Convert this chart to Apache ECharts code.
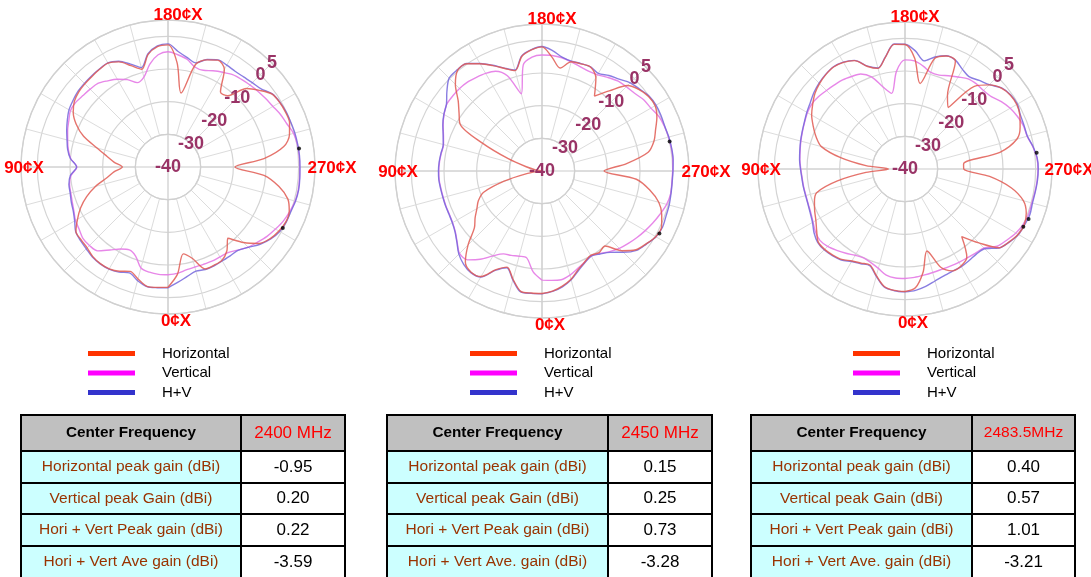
<!DOCTYPE html>
<html>
<head>
<meta charset="utf-8">
<title>Radiation patterns 2400 / 2450 / 2483.5 MHz</title>
<script src="https://cdn.jsdelivr.net/npm/echarts@6/dist/echarts.min.js"></script>
<style>
  html, body { margin: 0; padding: 0; background: #ffffff; }
  #main { width: 1091px; height: 577px; }
</style>
</head>
<body>
<div id="main"></div>
<script>
// ---------------------------------------------------------------
// Data: gain (dBi) sampled every 5 degrees of azimuth
// ---------------------------------------------------------------
const ANGLES = [0,5,10,15,20,25,30,35,40,45,50,55,60,65,70,75,80,85,90,95,100,105,110,115,120,125,130,135,140,145,150,155,160,165,170,175,180,185,190,195,200,205,210,215,220,225,230,235,240,245,250,255,260,265,270,275,280,285,290,295,300,305,310,315,320,325,330,335,340,345,350,355];

// 2400 MHz
const HORIZONTAL_2400 = [-3.2,-3.0,-2.9,-4.5,-6.0,-4.8,-4.0,-3.9,-4.2,-5.0,-5.3,-5.6,-8.0,-10.5,-13.5,-17.0,-21.0,-23.5,-26.0,-23.5,-21.0,-17.5,-12.5,-9.0,-6.5,-5.0,-4.3,-4.0,-3.8,-3.5,-3.3,-4.5,-7.0,-9.0,-5.0,-3.0,-2.6,-8.0,-17.0,-7.5,-5.1,-3.9,-5.5,-12.0,-11.5,-6.0,-3.5,-1.1,-0.5,-0.3,-0.4,-1.5,-4.0,-10.5,-19.5,-10.5,-5.5,-2.0,-0.5,-0.2,-0.8,-1.8,-3.6,-7.3,-11.5,-8.6,-7.0,-6.8,-6.8,-11.0,-13.0,-7.0];
const VERTICAL_2400 = [-7.0,-7.0,-7.3,-8.0,-11.0,-12.0,-11.0,-9.0,-6.5,-6.0,-6.0,-6.8,-7.3,-8.2,-8.8,-9.2,-9.4,-10.2,-12.1,-10.1,-9.0,-8.2,-7.3,-6.5,-5.5,-5.5,-6.0,-6.3,-6.6,-7.8,-9.0,-10.5,-12.5,-11.5,-8.0,-5.5,-4.7,-5.5,-6.5,-8.3,-8.5,-7.5,-6.5,-5.5,-5.0,-4.5,-4.0,-3.5,-2.9,-2.0,-1.3,-0.2,0.2,0.3,0.3,0.4,0.5,0.3,-0.3,-1.0,-2.0,-3.0,-4.2,-5.3,-6.8,-8.0,-8.2,-8.2,-8.3,-8.3,-8.0,-7.3];
const HV_2400 = [-3.0,-2.9,-2.8,-4.0,-5.5,-4.5,-3.9,-3.8,-4.0,-4.6,-5.0,-5.5,-7.0,-8.0,-8.5,-9.0,-9.2,-10.0,-12.0,-10.0,-8.8,-8.0,-7.0,-6.0,-5.0,-4.5,-4.0,-3.8,-3.6,-3.4,-3.2,-4.3,-6.5,-8.5,-4.8,-2.8,-2.3,-4.5,-6.0,-7.0,-5.0,-3.8,-4.0,-4.2,-4.0,-3.5,-2.8,-1.0,-0.4,-0.1,0.0,0.2,0.3,0.4,0.4,0.5,0.6,0.4,0.0,-0.1,-0.5,-1.6,-3.2,-5.2,-6.7,-6.8,-6.8,-6.6,-6.6,-7.0,-6.0,-4.6];
const PEAKS_2400 = [[0.5, 262], [-0.2, 298]];

// 2450 MHz
const HORIZONTAL_2450 = [-2.5,-2.5,-2.6,-5.7,-8.7,-6.7,-2.7,-2.2,-3.5,-8.0,-13.0,-15.0,-17.0,-18.5,-21.0,-28.0,-35.0,-39.0,-40.0,-40.0,-38.0,-35.0,-29.0,-20.0,-11.0,-9.0,-6.5,-2.5,0.2,0.1,-2.1,-4.4,-6.6,-8.2,-4.4,-2.8,-2.0,-5.0,-8.0,-5.4,-5.1,-4.9,-7.0,-12.0,-8.0,-3.0,-1.2,-0.2,0.0,-1.2,-3.0,-4.5,-7.0,-14.0,-21.0,-11.0,-6.5,-3.0,-1.0,0.4,0.2,-1.1,-2.5,-5.5,-10.0,-9.5,-10.2,-9.2,-7.8,-5.7,-4.2,-3.1];
const VERTICAL_2450 = [-6.6,-9.0,-13.0,-13.0,-12.5,-12.0,-10.0,-7.0,-4.5,-4.3,-6.1,-7.6,-8.4,-8.7,-8.7,-8.7,-8.6,-8.4,-8.4,-8.5,-8.7,-8.8,-7.9,-6.6,-5.4,-4.4,-4.3,-4.3,-4.5,-5.0,-5.5,-6.3,-9.0,-15.5,-7.0,-5.0,-4.5,-4.5,-4.8,-5.4,-6.0,-6.3,-6.0,-5.0,-4.0,-3.5,-3.0,-2.0,-1.5,-0.5,-0.1,0.1,0.2,0.2,0.0,-0.1,0.0,-0.5,-1.5,-2.5,-3.5,-4.5,-5.5,-6.5,-7.8,-9.2,-10.0,-9.2,-8.2,-7.0,-6.2,-6.4];
const HV_2450 = [-2.4,-2.4,-2.4,-5.5,-8.5,-6.5,-2.5,-2.0,-2.7,-4.0,-6.0,-7.5,-8.3,-8.6,-8.6,-8.6,-8.5,-8.3,-8.3,-8.4,-8.6,-8.7,-7.8,-6.5,-5.3,-4.3,-2.0,0.2,0.4,0.2,-2.0,-4.3,-6.5,-8.0,-4.2,-2.7,-1.9,-3.0,-4.6,-5.2,-5.0,-4.8,-5.5,-4.3,-3.3,-1.8,-1.0,0.0,0.3,0.2,0.0,0.2,0.3,0.3,0.1,0.0,0.1,0.3,0.4,0.7,0.3,-1.0,-2.2,-4.8,-7.5,-9.0,-9.9,-9.0,-7.5,-5.5,-4.0,-3.0];
const PEAKS_2450 = [[0.1, 257], [0.7, 298]];

// 2483.5 MHz
const HORIZONTAL_2483 = [-2.5,-2.7,-3.5,-6.2,-8.7,-8.2,-7.5,-6.2,-5.6,-5.2,-5.3,-7.0,-8.5,-9.5,-10.5,-12.0,-19.0,-28.0,-35.0,-28.0,-20.0,-13.5,-11.0,-9.0,-7.0,-5.5,-4.0,-3.0,-2.3,-1.9,-2.3,-3.4,-6.6,-8.1,-5.3,-1.7,-1.9,-6.0,-13.4,-5.0,-3.2,-3.5,-14.0,-17.0,-7.0,-3.6,-1.5,-0.6,-0.5,-1.2,-2.5,-4.5,-10.5,-22.0,-22.0,-14.0,-7.0,-2.5,-0.5,0.3,0.0,-1.1,-2.5,-8.0,-13.0,-7.0,-5.7,-5.6,-8.0,-14.0,-8.0,-3.5];
const VERTICAL_2483 = [-6.5,-6.5,-7.0,-8.5,-9.5,-10.0,-9.5,-8.5,-7.5,-6.5,-6.0,-6.5,-7.5,-8.2,-8.5,-8.6,-8.5,-8.4,-8.1,-7.7,-7.4,-7.0,-6.6,-6.1,-5.5,-5.2,-5.5,-6.0,-6.4,-6.7,-7.3,-7.9,-10.0,-14.0,-16.5,-10.0,-6.6,-6.8,-8.0,-9.4,-9.4,-8.5,-7.5,-6.3,-6.0,-6.0,-5.5,-4.0,-2.8,-2.0,-1.4,-1.3,-0.3,0.5,0.7,0.6,0.4,0.2,0.3,0.0,-0.8,-2.0,-3.2,-5.8,-6.4,-6.8,-7.0,-7.2,-7.3,-7.2,-7.0,-6.7];
const HV_2483 = [-2.4,-2.6,-3.3,-6.0,-8.5,-8.0,-7.3,-6.0,-5.4,-5.0,-5.1,-6.0,-7.3,-8.0,-8.4,-8.5,-8.4,-8.3,-8.0,-7.6,-7.3,-6.9,-6.5,-6.0,-5.3,-4.6,-3.6,-2.8,-2.2,-1.8,-2.2,-3.3,-6.5,-8.0,-5.2,-1.6,-1.8,-3.7,-6.4,-4.5,-3.1,-3.3,-4.8,-5.6,-4.6,-3.5,-1.4,-0.5,-0.3,-1.0,-1.2,-1.2,-0.2,0.6,0.8,0.7,0.5,0.4,0.7,0.4,0.1,-1.0,-2.4,-5.5,-6.0,-5.8,-5.5,-5.5,-5.2,-4.5,-3.5,-2.7];
const PEAKS_2483 = [[0.6, 263], [0.8, 292], [0.3, 296]];

// Axis tick labels
const ANGLE_TICKS = [0, 90, 180, 270];
const ANGLE_TICK_LABELS = ['0¢X', '90¢X', '180¢X', '270¢X'];
const DB_TICKS = [5, 0, -10, -20, -30, -40];

// Legend / table text
const SERIES_NAMES = ['Horizontal', 'Vertical', 'H+V'];
const TABLE_HEADER = 'Center Frequency';
const FREQ_LABELS = ['2400 MHz', '2450 MHz', '2483.5MHz'];
const ROW_LABELS_2400 = ['Horizontal peak gain (dBi)', 'Vertical peak Gain (dBi)', 'Hori + Vert Peak gain (dBi)', 'Hori + Vert Ave gain (dBi)'];
const ROW_LABELS_2450 = ['Horizontal peak gain (dBi)', 'Vertical peak Gain (dBi)', 'Hori + Vert Peak gain (dBi)', 'Hori + Vert Ave. gain (dBi)'];
const ROW_LABELS_2483 = ['Horizontal peak gain (dBi)', 'Vertical peak Gain (dBi)', 'Hori + Vert Peak gain (dBi)', 'Hori + Vert Ave. gain (dBi)'];
const GAINS_2400 = [-0.95, 0.20, 0.22, -3.59];
const GAINS_2450 = [0.15, 0.25, 0.73, -3.28];
const GAINS_2483 = [0.40, 0.57, 1.01, -3.21];

// ---------------------------------------------------------------
// Layout and styling
// ---------------------------------------------------------------
const FONT = "'Liberation Sans', Arial, Helvetica, sans-serif";
const R_MIN = -40, R_MAX = 5, RING_MIN = -30;
const RADIUS = 147;
const RING_INNER = RADIUS * (RING_MIN - R_MIN) / (R_MAX - R_MIN);
const ROW_Y = [415, 451, 483, 514, 546, 578];

const PANELS = [
  { cx: 168, cy: 167, legendX: 88,  tx: [21, 241, 345],  h: HORIZONTAL_2400, v: VERTICAL_2400, hv: HV_2400, peaks: PEAKS_2400, rows: ROW_LABELS_2400, gains: GAINS_2400, freqSize: 17 },
  { cx: 542, cy: 171, legendX: 470, tx: [387, 608, 712], h: HORIZONTAL_2450, v: VERTICAL_2450, hv: HV_2450, peaks: PEAKS_2450, rows: ROW_LABELS_2450, gains: GAINS_2450, freqSize: 17 },
  { cx: 905, cy: 169, legendX: 853, tx: [751, 972, 1075], h: HORIZONTAL_2483, v: VERTICAL_2483, hv: HV_2483, peaks: PEAKS_2483, rows: ROW_LABELS_2483, gains: GAINS_2483, freqSize: 15.5 }
];

const LINE_COLORS = { 'Horizontal': '#e05a52', 'Vertical': '#e47ae6', 'H+V': '#7466dc' };
const LEGEND_COLORS = ['#ff3300', '#ff00ff', '#3333cc'];
const ANGLE_LABEL_OFFSET = { 0: [8, 154], 90: [-144, 1], 180: [10, -152], 270: [164, 1] };

function closed(values) {
  const pts = ANGLES.map((a, k) => [values[k], a]);
  pts.push([values[0], 360]);
  return pts;
}

const polar = [], angleAxis = [], radiusAxis = [], series = [], legend = [];
const firstSeriesOfPanel = [];

PANELS.forEach((p, i) => {
  const gridIdx = 2 * i, dataIdx = 2 * i + 1;
  // background grid: rings from -30 dB outward and 15-degree spokes
  polar.push({ center: [p.cx, p.cy], radius: [RING_INNER, RADIUS] });
  // data frame: -40 dB at the centre
  polar.push({ center: [p.cx, p.cy], radius: [0, RADIUS] });

  angleAxis.push({
    polarIndex: gridIdx, type: 'value', min: 0, max: 360, interval: 15,
    startAngle: 270, clockwise: true,
    axisLine: { show: true, lineStyle: { color: '#d0d0d0', width: 1.3 } },
    axisTick: { show: false }, axisLabel: { show: false },
    splitLine: { show: true, lineStyle: { color: '#dcdcdc', width: 1 } },
    splitArea: { show: false }
  });
  radiusAxis.push({
    polarIndex: gridIdx, type: 'value', min: RING_MIN, max: R_MAX, interval: 10,
    axisLine: { show: false }, axisTick: { show: false }, axisLabel: { show: false },
    splitLine: { show: true, lineStyle: { color: '#d4d4d4', width: 1.2 } },
    splitArea: { show: false }
  });
  angleAxis.push({
    polarIndex: dataIdx, type: 'value', min: 0, max: 360, interval: 90,
    startAngle: 270, clockwise: true,
    axisLine: { show: false }, axisTick: { show: false }, axisLabel: { show: false },
    splitLine: { show: true, lineStyle: { color: '#cccccc', width: 1.2 } },
    splitArea: { show: false }
  });
  radiusAxis.push({
    polarIndex: dataIdx, type: 'value', min: R_MIN, max: R_MAX,
    axisLine: { show: false }, axisTick: { show: false }, axisLabel: { show: false },
    splitLine: { show: false }, splitArea: { show: false }
  });

  firstSeriesOfPanel.push(series.length);
  [['Vertical', p.v, 0.9], ['H+V', p.hv, 0.85], ['Horizontal', p.h, 0.85]].forEach(([name, vals, op]) => {
    series.push({
      type: 'line', name: name, coordinateSystem: 'polar', polarIndex: dataIdx,
      data: closed(vals), smooth: 0.3, showSymbol: false, silent: true,
      lineStyle: { color: LINE_COLORS[name], width: 1.4, opacity: op },
      itemStyle: { color: LINE_COLORS[name] }
    });
  });
  series.push({
    type: 'scatter', name: 'peak', coordinateSystem: 'polar', polarIndex: dataIdx,
    data: p.peaks, symbolSize: 4, silent: true, itemStyle: { color: '#000000' }, z: 5
  });

  legend.push({
    left: p.legendX, top: 344.5, orient: 'vertical', padding: 0,
    itemWidth: 47, itemHeight: 5, itemGap: 1.5, icon: 'rect', selectedMode: false,
    data: SERIES_NAMES.map((n, k) => ({ name: n, itemStyle: { color: LEGEND_COLORS[k], borderWidth: 0 } })),
    textStyle: { fontSize: 15, color: '#000000', fontFamily: FONT, lineHeight: 18, padding: [0, 0, 0, 22] }
  });
});

const chart = echarts.init(document.getElementById('main'), null, { renderer: 'canvas', width: 1091, height: 577 });
chart.setOption({
  backgroundColor: '#ffffff',
  animation: false,
  polar, angleAxis, radiusAxis, legend, series
});

// ---------------------------------------------------------------
// Axis captions and gain tables
// ---------------------------------------------------------------
const graphics = [];
PANELS.forEach((p, i) => {
  const sIdx = firstSeriesOfPanel[i];
  const c = chart.convertToPixel({ seriesIndex: sIdx }, [R_MIN, 0]);

  ANGLE_TICKS.forEach((a, k) => {
    const off = ANGLE_LABEL_OFFSET[a];
    graphics.push({
      type: 'text', x: c[0] + off[0], y: c[1] + off[1], z: 10,
      style: { text: ANGLE_TICK_LABELS[k], fill: '#ff0000', font: 'bold 17px ' + FONT, align: 'center', verticalAlign: 'middle' }
    });
  });

  DB_TICKS.forEach(v => {
    const pt = chart.convertToPixel({ seriesIndex: sIdx }, [v, 225]);
    graphics.push({
      type: 'text', x: pt[0], y: pt[1], z: 10,
      style: { text: String(v), fill: '#993366', font: 'bold 18px ' + FONT, align: 'center', verticalAlign: 'middle' }
    });
  });

  const [x0, xm, x1] = p.tx;
  for (let r = 0; r < 5; r++) {
    const y0 = ROW_Y[r], y1 = ROW_Y[r + 1], ym = (y0 + y1) / 2;
    const header = r === 0;
    graphics.push({
      type: 'rect', shape: { x: x0, y: y0, width: xm - x0, height: y1 - y0 }, z: 1,
      style: { fill: header ? '#c0c0c0' : '#ccffff', stroke: '#000000', lineWidth: 2 }
    });
    graphics.push({
      type: 'rect', shape: { x: xm, y: y0, width: x1 - xm, height: y1 - y0 }, z: 1,
      style: { fill: header ? '#c0c0c0' : '#ffffff', stroke: '#000000', lineWidth: 2 }
    });
    graphics.push({
      type: 'text', x: (x0 + xm) / 2, y: ym, z: 2,
      style: header
        ? { text: TABLE_HEADER, fill: '#000000', font: 'bold 15.3px ' + FONT, align: 'center', verticalAlign: 'middle' }
        : { text: p.rows[r - 1], fill: '#993300', font: '15.5px ' + FONT, align: 'center', verticalAlign: 'middle' }
    });
    graphics.push({
      type: 'text', x: (xm + x1) / 2, y: ym, z: 2,
      style: header
        ? { text: FREQ_LABELS[i], fill: '#ff0000', font: p.freqSize + 'px ' + FONT, align: 'center', verticalAlign: 'middle' }
        : { text: p.gains[r - 1].toFixed(2), fill: '#000000', font: '17px ' + FONT, align: 'center', verticalAlign: 'middle' }
    });
  }
});
chart.setOption({ graphic: graphics });
</script>
</body>
</html>
